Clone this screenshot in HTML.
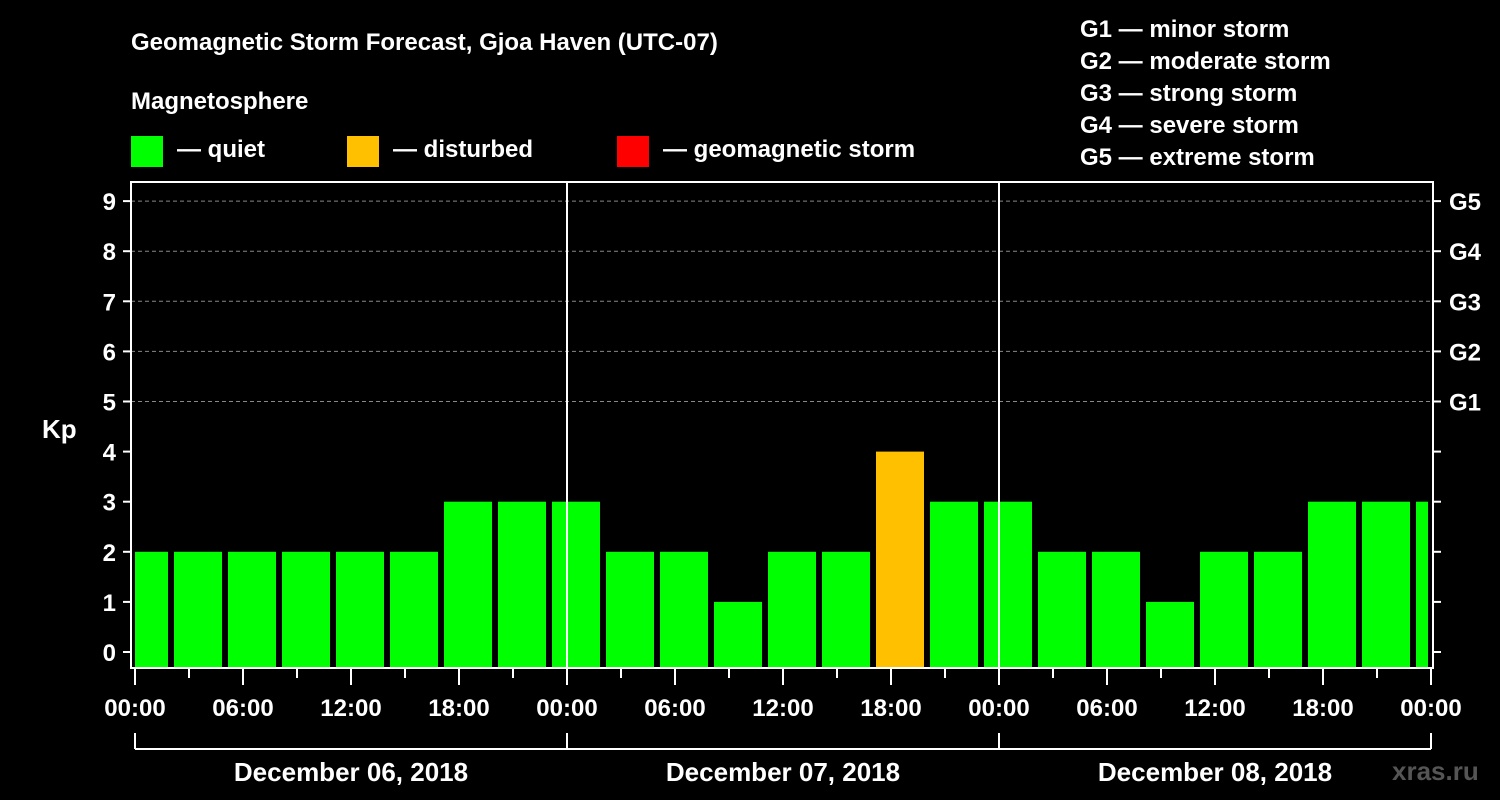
<!DOCTYPE html>
<html><head><meta charset="utf-8"><style>
body{margin:0;background:#000;width:1500px;height:800px;overflow:hidden}
svg{display:block;font-family:"Liberation Sans",Arial,sans-serif;font-weight:bold}
</style></head><body>
<svg id="c" width="1500" height="800">
<text x="131" y="50" fill="#fff" font-size="24">Geomagnetic Storm Forecast, Gjoa Haven (UTC-07)</text>
<text x="131" y="109" fill="#fff" font-size="24">Magnetosphere</text>
<g><rect x="131" y="136" width="32" height="31" fill="#00ff00"/><text x="177" y="157" fill="#fff" font-size="24">— quiet</text></g>
<g><rect x="347" y="136" width="32" height="31" fill="#ffc000"/><text x="393" y="157" fill="#fff" font-size="24">— disturbed</text></g>
<g><rect x="617" y="136" width="32" height="31" fill="#ff0000"/><text x="663" y="157" fill="#fff" font-size="24">— geomagnetic storm</text></g>
<g fill="#fff" font-size="24">
<text x="1080" y="37">G1 — minor storm</text><text x="1080" y="69">G2 — moderate storm</text><text x="1080" y="101">G3 — strong storm</text><text x="1080" y="133">G4 — severe storm</text><text x="1080" y="165">G5 — extreme storm</text></g>
<text x="42" y="438" fill="#fff" font-size="26">Kp</text>
<text x="1392" y="780" fill="#555" font-size="26">xras.ru</text>
<defs><clipPath id="pc"><rect x="135" y="182" width="1293" height="486"/></clipPath></defs>
<g id="grid"></g><g id="bars" clip-path="url(#pc)"></g><g id="axes"></g>
</svg>
<script>
const kpValues=[2,2,2,2,2,2,3,3,3,2,2,1,2,2,4,3,3,2,2,1,2,2,3,3,3];
const yTicks=[0,1,2,3,4,5,6,7,8,9];
const gLabels=["G1","G2","G3","G4","G5"];
const xLabels=["00:00","06:00","12:00","18:00","00:00","06:00","12:00","18:00","00:00","06:00","12:00","18:00","00:00"];
const dayLabels=["December 06, 2018","December 07, 2018","December 08, 2018"];
const NS="http://www.w3.org/2000/svg";
const x=h=>135+h*18, y=v=>652-50.1*v;
function mk(p,t,a){const e=document.createElementNS(NS,t);for(const k in a)e.setAttribute(k,a[k]);p.appendChild(e);return e;}
const grid=document.getElementById('grid'),bars=document.getElementById('bars'),axes=document.getElementById('axes');
for(let v=5;v<=9;v++){const l=mk(grid,'line',{x1:131,x2:1433,y1:y(v),y2:y(v),stroke:'#888','stroke-dasharray':'4,3'});

}
kpValues.forEach((v,i)=>{const c=x(0.5+3*i);
const r=mk(bars,'rect',{x:c-24,y:y(v),width:48,height:668-y(v),fill:v>=5?'#ff0000':v>=4?'#ffc000':'#00ff00'});

});
[567,999].forEach(px=>{const l=mk(axes,'line',{x1:px,x2:px,y1:182,y2:668,stroke:'#fff','stroke-width':2});

});
const f=mk(axes,'rect',{x:131,y:182,width:1302,height:486,fill:'none',stroke:'#fff','stroke-width':2});


yTicks.forEach(v=>{mk(axes,'line',{x1:123,x2:131,y1:y(v),y2:y(v),stroke:'#fff','stroke-width':2});
mk(axes,'line',{x1:1433,x2:1441,y1:y(v),y2:y(v),stroke:'#fff','stroke-width':2});
const t=mk(axes,'text',{x:116,y:y(v)+9,fill:'#fff','font-size':24,'text-anchor':'end'});t.textContent=v;

});
gLabels.forEach((g,i)=>{const t=mk(axes,'text',{x:1449,y:y(5+i)+9,fill:'#fff','font-size':24});t.textContent=g;

});
for(let h=0;h<=72;h+=3){const maj=h%6==0;mk(axes,'line',{x1:x(h),x2:x(h),y1:668,y2:maj?685:678,stroke:'#fff','stroke-width':2});}
xLabels.forEach((s,i)=>{const t=mk(axes,'text',{x:x(i*6),y:716,fill:'#fff','font-size':24,'text-anchor':'middle'});t.textContent=s;

});
mk(axes,'line',{x1:135,x2:1431,y1:749,y2:749,stroke:'#fff','stroke-width':2});
for(let d=0;d<=3;d++)mk(axes,'line',{x1:x(d*24),x2:x(d*24),y1:733,y2:749,stroke:'#fff','stroke-width':2});
dayLabels.forEach((s,i)=>{const t=mk(axes,'text',{x:x(i*24+12),y:781,fill:'#fff','font-size':26,'text-anchor':'middle'});t.textContent=s;

});
</script>
</body></html>
